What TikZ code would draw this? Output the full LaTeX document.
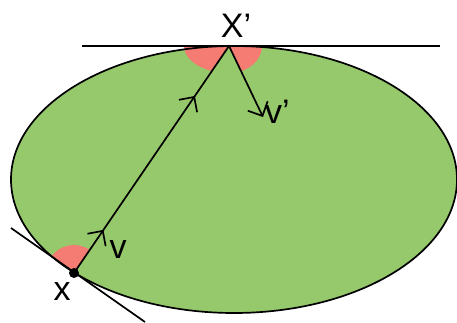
\documentclass[tikz,border=0pt]{standalone}
\usepackage{fontspec}
\setmainfont{Liberation Sans}
\usetikzlibrary{arrows.meta, positioning, calc, decorations.markings}

\definecolor{lawn}{RGB}{150,201,108}
\definecolor{salmon}{RGB}{244,124,114}

\begin{document}
\begin{tikzpicture}[
  x=1pt, y=1pt,
  lbl/.style={inner sep=0pt, font=\fontsize{34}{38}\selectfont},
  ln/.style={line width=1.7pt},
  barb/.style={-{Straight Barb[length=11pt, width=22pt]}, line width=1.7pt},
  wedge/.style={fill=salmon}
]
\useasboundingbox (0,0) rectangle (457,322);

% table and points
\coordinate (ctr)  at (234,142.5);
\coordinate (Xp)   at (229,276);
\coordinate (xpt)  at (74,49);
\coordinate (vend) at (263,205);
\coordinate (tl)   at (82,276);
\coordinate (tr)   at (440,276);
\coordinate (bl)   at (11,94);
\coordinate (br)   at (145,0);
\coordinate (varr) at ($(xpt)!0.19!(Xp)$);

\fill[lawn] (ctr) ellipse [x radius=223, y radius=133.5];

% angles at the two bounces
\fill[wedge] (xpt) -- ++(55.6:28) arc[start angle=55.6, end angle=144.5, radius=28] -- cycle;
\fill[wedge] (Xp) -- ++(-45,0) arc[start angle=180, end angle=247.8, x radius=45, y radius=27] -- cycle;
\fill[wedge] (Xp) -- ++(33,0) arc[start angle=0, end angle=-68.6, x radius=33, y radius=27] -- cycle;

\draw[ln] (ctr) ellipse [x radius=223, y radius=133.5];

\draw[ln] (tl) -- (tr);
\draw[ln] (bl) -- (br);
\draw[ln, postaction={decorate}, decoration={markings,
    mark=at position 0.19 with {\arrow{Straight Barb[length=11pt, width=22pt]}},
    mark=at position 0.78 with {\arrow{Straight Barb[length=11pt, width=22pt]}}}]
  (xpt) -- (Xp);
\draw[barb] (Xp) -- (vend);
\fill (xpt) circle (5);

\node[lbl, above=8pt of Xp, xshift=7pt] (lXp) {X’};
\node[lbl, right=2pt of vend, yshift=5pt] (lvp) {v’};
\node[lbl, below right=10pt and 6pt of varr] (lv) {v};
\node[lbl, below=9pt of xpt, xshift=-12pt] (lx) {x};

\end{tikzpicture}
\end{document}
